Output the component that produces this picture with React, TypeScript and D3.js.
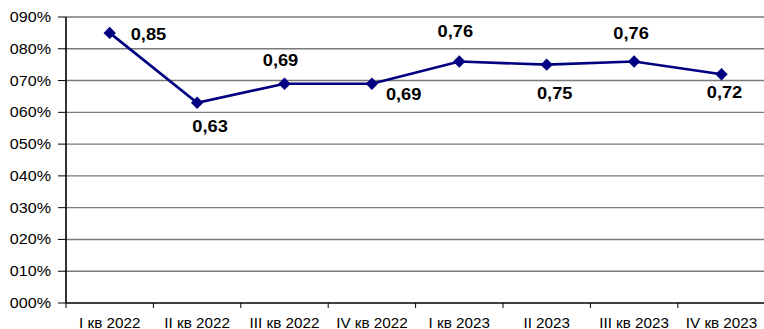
import React from "react";
import * as d3 from "d3";

const categories = [
  "I кв 2022",
  "II кв 2022",
  "III кв 2022",
  "IV кв 2022",
  "I кв 2023",
  "II 2023",
  "III кв 2023",
  "IV кв 2023",
];
const values = [0.85, 0.63, 0.69, 0.69, 0.76, 0.75, 0.76, 0.72];
const valueLabels = ["0,85", "0,63", "0,69", "0,69", "0,76", "0,75", "0,76", "0,72"];
const yTicks = [0, 0.1, 0.2, 0.3, 0.4, 0.5, 0.6, 0.7, 0.8, 0.9];
const yTickLabels = ["000%", "010%", "020%", "030%", "040%", "050%", "060%", "070%", "080%", "090%"];

// label placement relative to each point: [dx, dy, anchor]
const labelPlacement: [number, number, string][] = [
  [21, 1, "start"],
  [13, 23, "middle"],
  [-4, -23.5, "middle"],
  [14, 10, "start"],
  [-4, -30, "middle"],
  [8, 29, "middle"],
  [-3, -28, "middle"],
  [3, 18, "middle"],
];

const W = 764;
const H = 329;
const margin = { left: 66, top: 17, bottom: 26 };
const band = 87.4;

const font = "'Liberation Sans', Arial, sans-serif";

function SText({
  x,
  y,
  sx,
  anchor,
  size,
  bold,
  children,
}: {
  x: number;
  y: number;
  sx: number;
  anchor: string;
  size: number;
  bold?: boolean;
  children: React.ReactNode;
}) {
  return (
    <text
      transform={`translate(${x},${y}) scale(${sx},1)`}
      textAnchor={anchor as any}
      fontFamily={font}
      fontSize={size}
      fontWeight={bold ? "bold" : "normal"}
      fill="#000"
    >
      {children}
    </text>
  );
}

export default function App() {
  const x = d3
    .scaleBand<string>()
    .domain(categories)
    .range([margin.left, margin.left + categories.length * band]);
  const y = d3
    .scaleLinear()
    .domain([0, 0.9])
    .range([H - margin.bottom, margin.top]);

  const cx = (c: string) => (x(c) as number) + x.bandwidth() / 2;
  const line = d3
    .line<number>()
    .x((_, i) => cx(categories[i]))
    .y((d) => y(d));

  const y0 = y(0);
  const diamond = (px: number, py: number, r: number) =>
    `M${px},${py - r}L${px + r},${py}L${px},${py + r}L${px - r},${py}Z`;

  return (
    <svg
      width={W}
      height={H}
      style={{ position: "absolute", left: 0, top: 0, background: "#fff" }}
    >
      {/* horizontal gridlines */}
      {yTicks.slice(1).map((t) => (
        <line
          key={t}
          x1={margin.left}
          x2={W}
          y1={y(t)}
          y2={y(t)}
          stroke="#7a7a7a"
          strokeWidth={1.4}
        />
      ))}
      {/* y axis */}
      <line x1={margin.left} x2={margin.left} y1={margin.top} y2={y0} stroke="#000" strokeWidth={1.6} />
      {yTicks.map((t, i) => (
        <g key={t}>
          <line x1={margin.left - 8} x2={margin.left} y1={y(t)} y2={y(t)} stroke="#000" strokeWidth={1} />
          <SText x={margin.left - 15} y={y(t) + 5} sx={1.15} anchor="end" size={14}>
            {yTickLabels[i]}
          </SText>
        </g>
      ))}
      {/* x axis */}
      <line x1={margin.left} x2={W} y1={y0} y2={y0} stroke="#000" strokeWidth={1.6} />
      {categories.map((c, i) => (
        <g key={c}>
          <line
            x1={x(c) as number}
            x2={x(c) as number}
            y1={y0}
            y2={y0 + 5}
            stroke="#000"
            strokeWidth={1}
          />
          <SText x={cx(c)} y={y0 + 24.5} sx={1.03} anchor="middle" size={14.8}>
            {categories[i]}
          </SText>
        </g>
      ))}
      {/* series */}
      <path d={line(values) || ""} fill="none" stroke="#000080" strokeWidth={2.6} />
      {values.map((v, i) => (
        <path key={i} d={diamond(cx(categories[i]), y(v), 6.2)} fill="#000080" />
      ))}
      {values.map((v, i) => {
        const [dx, dy, anchor] = labelPlacement[i];
        return (
          <SText
            key={i}
            x={cx(categories[i]) + dx}
            y={y(v) + dy + 5.8}
            sx={1.12}
            anchor={anchor}
            size={16.3}
            bold
          >
            {valueLabels[i]}
          </SText>
        );
      })}
    </svg>
  );
}
